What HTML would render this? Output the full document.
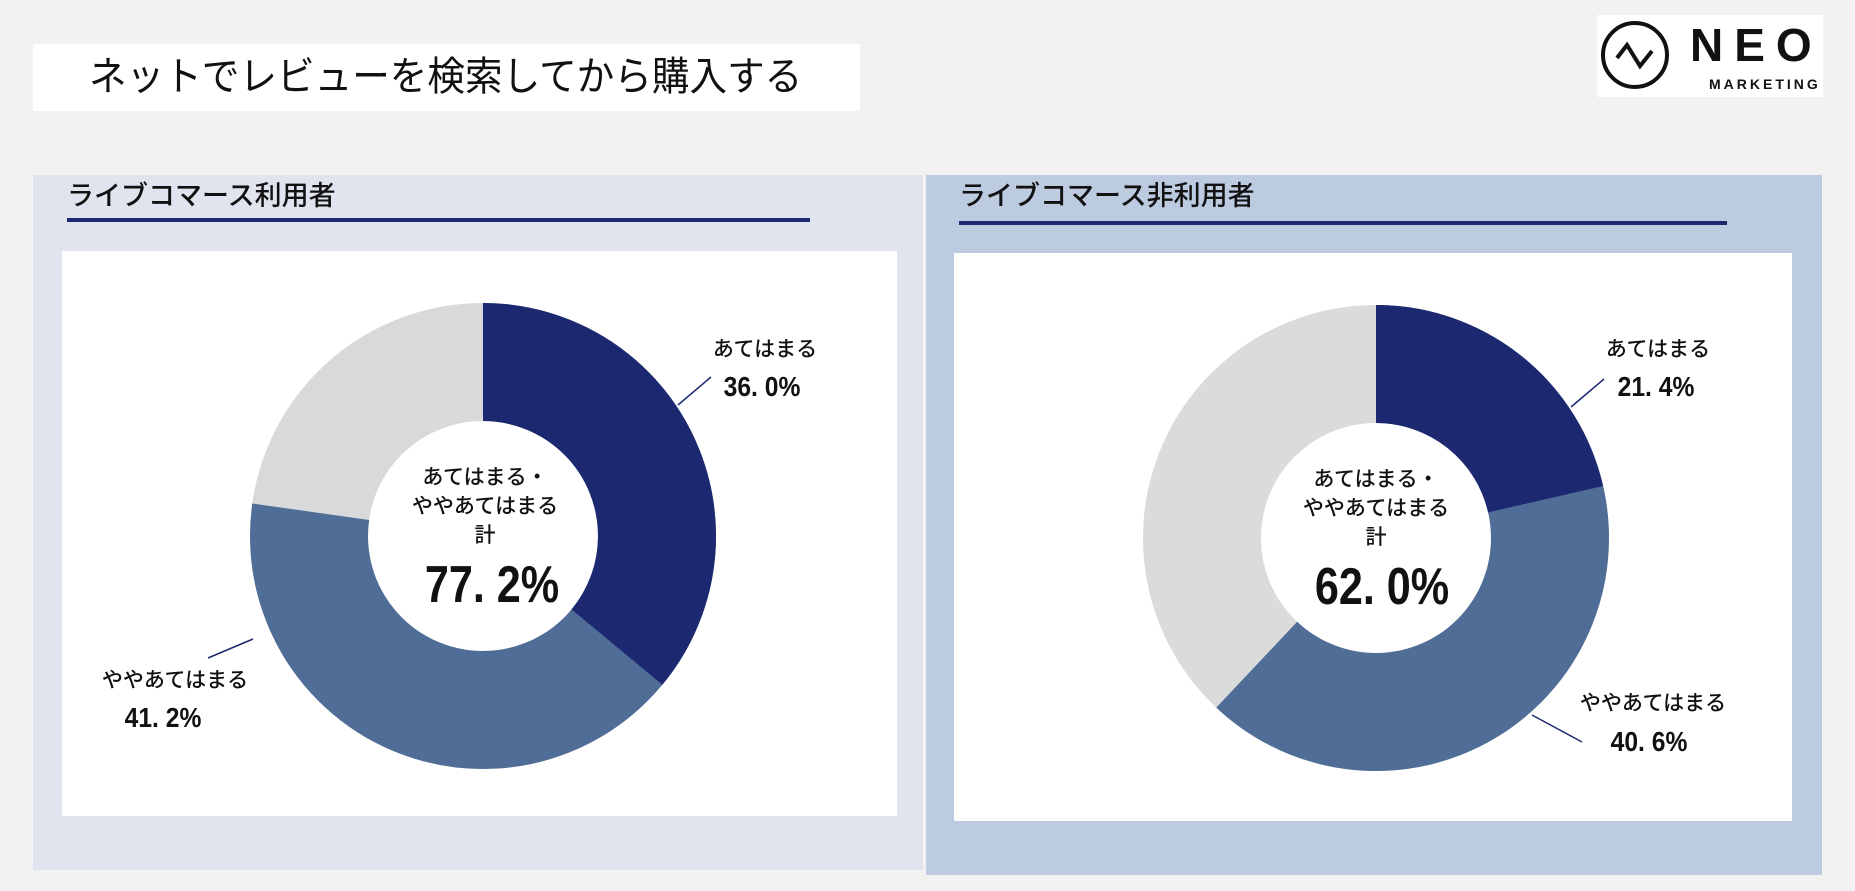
<!DOCTYPE html>
<html><head><meta charset="utf-8"><style>
html,body{margin:0;padding:0;}
body{width:1855px;height:891px;background:#f2f2f2;position:relative;overflow:hidden;font-family:"Liberation Sans","Noto Sans CJK JP",sans-serif;}
.abs{position:absolute;}
</style></head><body>
<div class="abs" style="left:33px;top:44px;width:827px;height:67px;background:#fff;"></div>
<div class="abs" style="left:89px;top:52px;font-size:40px;line-height:50px;color:#111;white-space:nowrap;transform:scaleX(0.94);transform-origin:0 0;">ネットでレビューを検索してから購入する</div>

<div class="abs" style="left:1597px;top:15px;width:226px;height:82px;background:#fff;"></div>
<svg class="abs" style="left:0;top:0" width="1855" height="891">
<circle cx="1635" cy="55" r="32" fill="none" stroke="#111" stroke-width="4"/>
<polyline points="1617,58 1627,45 1640,66 1652,51" fill="none" stroke="#111" stroke-width="4"/>
<text x="1690" y="61" font-family="Liberation Sans, sans-serif" font-weight="bold" font-size="46" letter-spacing="11" fill="#111">NEO</text>
<text x="1709" y="89" font-family="Liberation Sans, sans-serif" font-weight="bold" font-size="14" letter-spacing="3" fill="#111">MARKETING</text>
</svg>

<div class="abs" style="left:33px;top:175px;width:890px;height:695px;background:#dfe4ee;"></div>
<div class="abs" style="left:926px;top:175px;width:896px;height:700px;background:#bccbe0;"></div>
<div class="abs" style="left:62px;top:251px;width:835px;height:565px;background:#fff;"></div>
<div class="abs" style="left:954px;top:253px;width:838px;height:568px;background:#fff;"></div>

<div class="abs" style="left:67px;top:180px;font-size:27px;line-height:32px;color:#111;font-weight:500;">ライブコマース利用者</div>
<div class="abs" style="left:67px;top:218px;width:743px;height:4px;background:#1c2870;"></div>
<div class="abs" style="left:959px;top:180px;font-size:27px;line-height:32px;color:#111;font-weight:500;">ライブコマース非利用者</div>
<div class="abs" style="left:959px;top:221px;width:768px;height:4px;background:#1c2870;"></div>

<svg class="abs" style="left:0;top:0" width="1855" height="891" font-family="Liberation Sans, Noto Sans CJK JP, sans-serif">
<g transform="translate(483,536) rotate(-90)">
<circle r="174" fill="none" stroke="#d9d9db" stroke-width="118"/>
<circle r="174" fill="none" stroke="#4f6d96" stroke-width="118" stroke-dasharray="844.0 2000"/>
<circle r="174" fill="none" stroke="#1c2870" stroke-width="118" stroke-dasharray="393.6 2000"/>
</g>
<g transform="translate(1376,538) rotate(-90)">
<circle r="174" fill="none" stroke="#dadcdc" stroke-width="118"/>
<circle r="174" fill="none" stroke="#4f6d96" stroke-width="118" stroke-dasharray="677.8 2000"/>
<circle r="174" fill="none" stroke="#1c2870" stroke-width="118" stroke-dasharray="234.0 2000"/>
</g>
<g fill="#111" font-size="21" font-weight="500" text-anchor="middle">
<text x="485" y="484">あてはまる・</text>
<text x="485" y="513">ややあてはまる</text>
<text x="485" y="542">計</text>
<text x="1376" y="486">あてはまる・</text>
<text x="1376" y="515">ややあてはまる</text>
<text x="1376" y="544">計</text>
<text x="765" y="356">あてはまる</text>
<text x="175" y="687">ややあてはまる</text>
<text x="1658" y="356">あてはまる</text>
<text x="1653" y="710">ややあてはまる</text>
</g>
<g fill="#111" font-weight="bold" text-anchor="middle">
<text transform="translate(492,602) scale(0.83,1)" font-size="52">77. 2%</text>
<text transform="translate(1382,604) scale(0.83,1)" font-size="52">62. 0%</text>
<text transform="translate(762,396) scale(0.88,1)" font-size="28">36. 0%</text>
<text transform="translate(163,727) scale(0.88,1)" font-size="28">41. 2%</text>
<text transform="translate(1656,396) scale(0.88,1)" font-size="28">21. 4%</text>
<text transform="translate(1649,751) scale(0.88,1)" font-size="28">40. 6%</text>
</g>
<g stroke="#1c2870" stroke-width="1.5">
<line x1="678" y1="405" x2="711" y2="377"/>
<line x1="208" y1="658" x2="253" y2="639"/>
<line x1="1571" y1="407" x2="1604" y2="379"/>
<line x1="1532" y1="715" x2="1582" y2="742"/>
</g>
</svg>
</body></html>
